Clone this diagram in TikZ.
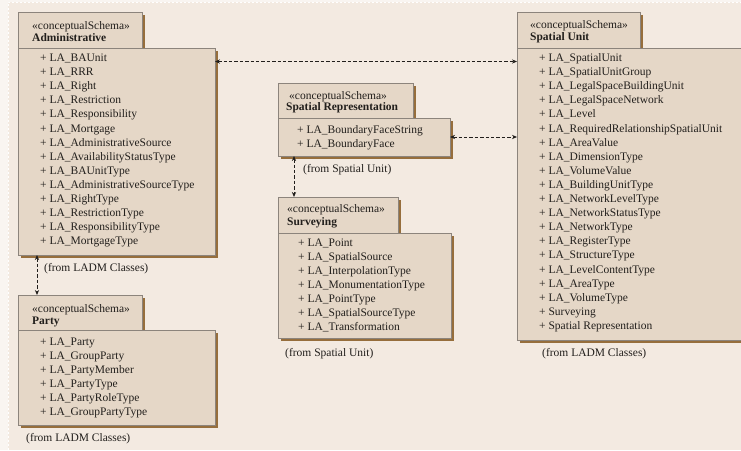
\documentclass[tikz,border=0pt]{standalone}
\usepackage{fontspec}
\setmainfont{Liberation Serif}
\usetikzlibrary{shadows,arrows.meta}

\definecolor{pagebg}{RGB}{243,234,225}
\definecolor{marginbg}{RGB}{249,245,241}
\definecolor{pkgfill}{RGB}{229,215,199}
\definecolor{pkgline}{RGB}{140,132,124}
\definecolor{pkgshadow}{RGB}{150,110,60}
\definecolor{ink}{RGB}{34,31,28}

\tikzset{
  pkgbox/.style={draw=pkgline, line width=0.6pt, fill=pkgfill, anchor=north west,
    inner sep=0pt, outer sep=0pt,
    drop shadow={shadow xshift=2.6pt, shadow yshift=-2.6pt, fill=pkgshadow, opacity=1}},
  txt/.style={font=\fontsize{11.5}{13}\selectfont, text=ink, inner sep=0pt, anchor=base west},
  ttl/.style={txt, font=\fontsize{11.5}{13}\selectfont\bfseries},
  dep/.style={draw=ink, line width=0.7pt, dash pattern=on 3.4pt off 2pt,
    {Stealth[length=5pt,width=4.2pt]}-{Stealth[length=5pt,width=4.2pt]}}
}

\begin{document}
\begin{tikzpicture}[x=1pt,y=-1pt]
\useasboundingbox (0,0) rectangle (741,450);
\clip (0,0) rectangle (741,450);

% page
\fill[marginbg] (0,0) rectangle (741,450);
\fill[pagebg] (8,2) rectangle (741,450);
\draw[white, line width=0.6pt, dash pattern=on 2pt off 2pt] (8,450) -- (8,2) -- (741,2);

% ---------------- Administrative ----------------
\node[pkgbox, minimum width=124pt, minimum height=36pt] (admTab) at (18,12) {};
\node[pkgbox, minimum width=197pt, minimum height=207pt] (admBody) at (18,48) {};
\node[txt] (admSt) at (32,29) {«conceptualSchema»};
\node[ttl] (admName) at (32,41) {Administrative};
\foreach \t [count=\i from 0] in {BAUnit, RRR, Right, Restriction, Responsibility,
    Mortgage, AdministrativeSource, AvailabilityStatusType, BAUnitType,
    AdministrativeSourceType, RightType, RestrictionType, ResponsibilityType, MortgageType}
  \node[txt] (adm-\i) at (40,{61.5+14.1*\i}) {+ LA\_\t};
\node[txt] (admFrom) at (44,271) {(from LADM Classes)};

% ---------------- Party ----------------
\node[pkgbox, minimum width=124pt, minimum height=35pt] (partyTab) at (18,295) {};
\node[pkgbox, minimum width=197pt, minimum height=95pt] (partyBody) at (18,330) {};
\node[txt] (partySt) at (32,312.5) {«conceptualSchema»};
\node[ttl] (partyName) at (32,324.5) {Party};
\foreach \t [count=\i from 0] in {Party, GroupParty, PartyMember, PartyType,
    PartyRoleType, GroupPartyType}
  \node[txt] (party-\i) at (40,{345.5+14*\i}) {+ LA\_\t};
\node[txt] (partyFrom) at (26,441) {(from LADM Classes)};

% ---------------- Spatial Representation ----------------
\node[pkgbox, minimum width=135pt, minimum height=35pt] (srTab) at (278,83) {};
\node[pkgbox, minimum width=172pt, minimum height=38pt] (srBody) at (278,118) {};
\node[txt] (srSt) at (289,99.5) {«conceptualSchema»};
\node[ttl] (srName) at (286,110.5) {Spatial Representation};
\node[txt] (sr-0) at (297,133.5) {+ LA\_BoundaryFaceString};
\node[txt] (sr-1) at (297,147) {+ LA\_BoundaryFace};
\node[txt] (srFrom) at (303,172.5) {(from Spatial Unit)};

% ---------------- Surveying ----------------
\node[pkgbox, minimum width=120pt, minimum height=36pt] (svTab) at (278,197) {};
\node[pkgbox, minimum width=173pt, minimum height=105pt] (svBody) at (278,233) {};
\node[txt] (svSt) at (287,212.5) {«conceptualSchema»};
\node[ttl] (svName) at (287,225.5) {Surveying};
\foreach \t [count=\i from 0] in {Point, SpatialSource, InterpolationType,
    MonumentationType, PointType, SpatialSourceType, Transformation}
  \node[txt] (sv-\i) at (298,{246.5+14*\i}) {+ LA\_\t};
\node[txt] (svFrom) at (285,356.5) {(from Spatial Unit)};

% ---------------- Spatial Unit ----------------
\node[pkgbox, minimum width=123pt, minimum height=36pt] (suTab) at (517,12) {};
\node[pkgbox, minimum width=250pt, minimum height=292pt] (suBody) at (517,48) {};
\node[txt] (suSt) at (530,28.5) {«conceptualSchema»};
\node[ttl] (suName) at (530,40.5) {Spatial Unit};
\foreach \t [count=\i from 0] in {LA\_SpatialUnit, LA\_SpatialUnitGroup,
    LA\_LegalSpaceBuildingUnit, LA\_LegalSpaceNetwork, LA\_Level,
    LA\_RequiredRelationshipSpatialUnit, LA\_AreaValue, LA\_DimensionType,
    LA\_VolumeValue, LA\_BuildingUnitType, LA\_NetworkLevelType,
    LA\_NetworkStatusType, LA\_NetworkType, LA\_RegisterType, LA\_StructureType,
    LA\_LevelContentType, LA\_AreaType, LA\_VolumeType, Surveying,
    Spatial Representation}
  \node[txt] (su-\i) at (539,{61.5+14.1*\i}) {+ \t};
\node[txt] (suFrom) at (542,356) {(from LADM Classes)};

% ---------------- dependencies ----------------
\draw[dep] (admBody.east |- adm-0.base) -- (suBody.west |- adm-0.base);
\draw[dep] (srBody.east) -- (srBody.east -| suBody.west);
\draw[dep] ([xshift=19pt]admBody.south west) -- ([xshift=19pt]partyTab.north west);
\draw[dep] ([xshift=16pt]srBody.south west) -- ([xshift=16pt]svTab.north west);
\end{tikzpicture}
\end{document}
